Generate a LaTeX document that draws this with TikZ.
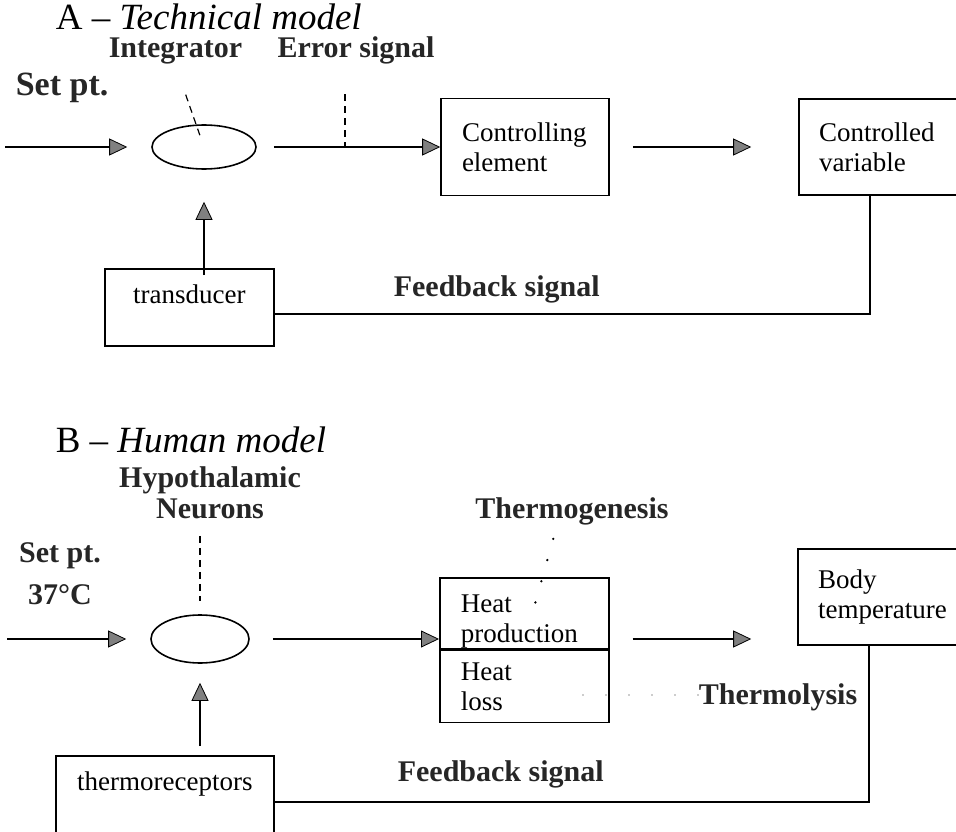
\documentclass[tikz,border=0pt]{standalone}
\usepackage{fontspec}
\setmainfont{Liberation Serif}
\usetikzlibrary{shapes,shapes.geometric,arrows.meta,positioning,calc}

\begin{document}
\begin{tikzpicture}[%
>={Triangle[length=18pt,width=17pt,fill=black!50,line width=0.8pt]},
x=1pt, y=-1pt,
line width=1.6pt,
box/.style={draw, rectangle, inner xsep=21pt, inner ysep=0pt, text width=#1,
  align=left, font=\fontsize{27}{30}\selectfont},
sensor/.style={draw, rectangle, inner xsep=0pt, inner ysep=15pt, text height=20pt,
  anchor=north west, font=\fontsize{27}{30}\selectfont},
comp/.style={draw, ellipse, inner sep=0pt},
tag/.style={inner sep=0pt, text=black!85, font=\fontsize{30}{31}\selectfont\bfseries},
ttl/.style={inner sep=0pt, font=\fontsize{37}{40}\selectfont},
dashline/.style={line width=1.2pt, dash pattern=on 7pt off 5pt},
dotline/.style={line width=2.6pt, line cap=round, dash pattern=on 0pt off 22pt},
faintdots/.style={line width=1.6pt, black!40, line cap=round, dash pattern=on 0pt off 23pt},
fb/.style={line width=2pt}
]
\useasboundingbox (0,0) rectangle (956,832);

% A: technical model
\node[ttl, anchor=base west] (ttlA) at (55,30) {A – \textit{Technical model}};
\node[tag, anchor=base west] (integ) at (108,58) {Integrator};
\node[tag, anchor=base] (errsig) at (356,58) {Error signal};
\node[tag, anchor=base west, font=\fontsize{34}{36}\selectfont\bfseries] (setA) at (15,96) {Set pt.};

\coordinate (inA) at (5,147);
\node[comp, minimum width=104pt, minimum height=44pt] (intA) at (204,147) {};
\node[box=126pt, minimum height=97pt] (ctrl) at (525,147) {Controlling\\element};
\node[box=135pt, inner xsep=20pt, minimum height=96pt] (var) at (886.5,147) {Controlled\\variable};
\node[sensor, minimum width=169pt, text depth=27pt] (tdr) at (104,268) {transducer};
\node[tag, anchor=base west] (fbtxtA) at (393,296) {Feedback signal};

\path[->] (inA) edge [shorten >=24pt] (intA.west);
\path[->] (intA.east) edge [shorten <=17pt] (ctrl.west);
\path[->] (ctrl.east) edge [shorten <=23pt, shorten >=47pt] (var.west);
\path[->] (tdr.north -| intA.south) edge [shorten <=-7pt, shorten >=32pt] (intA.south);

% leaders A
\coordinate (errpt) at (345,146);
\draw[dashline, shorten <=31pt, shorten >=8pt] (integ.south) -- (intA.center);
\draw[dashline, shorten <=29pt] (errsig.south -| errpt) -- (errpt);

% feedback A
\coordinate (fbA) at (870,314);
\draw[fb] (var.south -| fbA) -- (fbA) -- (fbA -| tdr.east);

% B: human model
\node[ttl, anchor=base west] (ttlB) at (55,452) {B – \textit{Human model}};
\node[tag, align=center, anchor=north] (hypo) at (210,466) {Hypothalamic\\Neurons};
\node[tag, align=center, anchor=north] (setB) at (60,542) {Set pt.\\[11pt]37°C};
\node[tag, anchor=base] (thermog) at (572,518) {Thermogenesis};

\coordinate (inB) at (7,639);
\node[comp, minimum width=98pt, minimum height=48pt] (intB) at (200,639) {};
\node[box=127pt, minimum height=71pt, anchor=north west] (heatprod) at (439,577) {\rule{0pt}{34pt}Heat\\production};
\node[box=127pt, minimum height=72pt, below=0pt of heatprod] (heatloss) {Heat\\loss};
\node[box=136pt, inner xsep=20pt, minimum height=96pt] (body) at (886,597) {Body\\temperature};
\node[tag, anchor=base east] (thermol) at (858,704) {Thermolysis};
\node[sensor, minimum width=218pt, text depth=55pt] (thr) at (55,755) {thermoreceptors};
\node[tag, anchor=base west] (fbtxtB) at (397,781) {Feedback signal};

\path[->] (inB) edge [shorten >=24pt] (intB.west);
\path[->] (intB.east) edge [shorten <=23pt] (intB.east -| heatprod.west);
\path[->] (intB.east -| heatprod.east) edge [shorten <=23pt, shorten >=46pt] (intB.east -| body.west);
\path[->] (thr.north -| intB.south) edge [shorten <=9pt, shorten >=19pt] (intB.south);

% leaders B
\coordinate (tgend) at (535,604);
\coordinate (tlend) at (583,695);
\draw[dashline, shorten <=16pt, shorten >=13pt] (hypo.south -| intB.north) -- (intB.north);
\draw[dotline, shorten <=14pt] ([xshift=-15pt]thermog.south) -- (tgend);
\draw[faintdots] (tlend) -- (thermol.west |- tlend);

% feedback B
\coordinate (fbB) at (869,802);
\draw[fb] (body.south -| fbB) -- (fbB) -- (fbB -| thr.east);

\end{tikzpicture}
\end{document}
